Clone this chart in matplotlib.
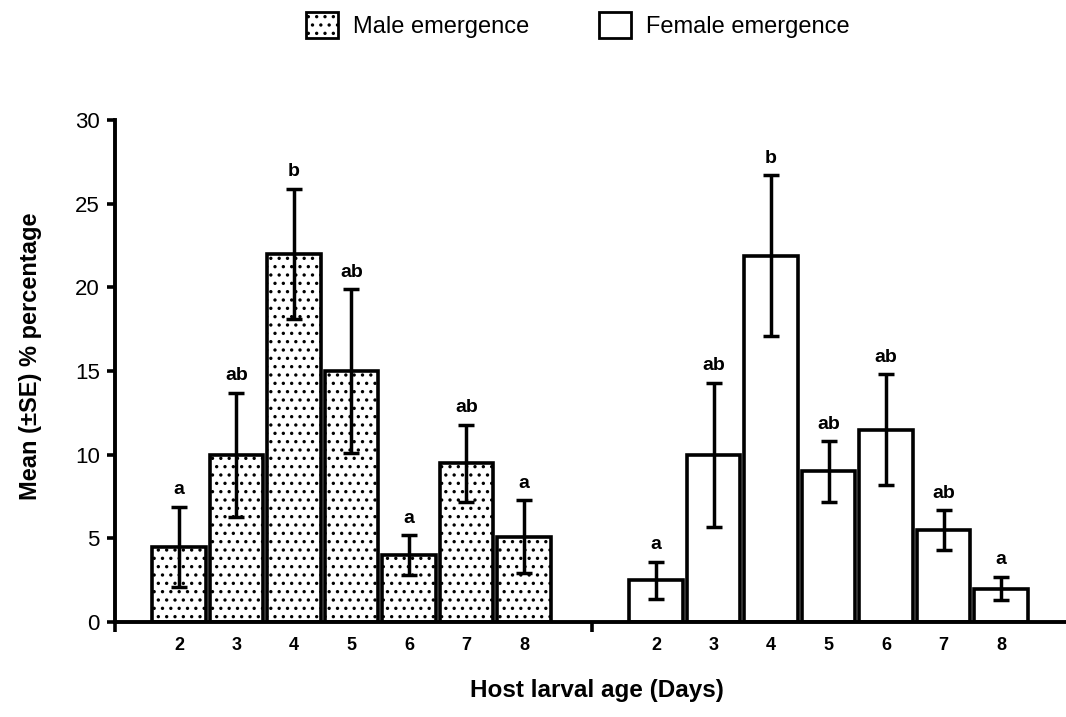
import matplotlib
matplotlib.use("Agg")
import matplotlib.pyplot as plt
import numpy as np
from matplotlib.patches import Patch

plt.rcParams['font.family'] = ['Liberation Sans', 'DejaVu Sans']
plt.rcParams['hatch.color'] = 'black'
plt.rcParams['hatch.linewidth'] = 1.2

ages = ['2', '3', '4', '5', '6', '7', '8']
male_mean = [4.5, 10.0, 22.0, 15.0, 4.0, 9.5, 5.1]
male_se = [2.4, 3.7, 3.9, 4.9, 1.2, 2.3, 2.2]
male_letters = ['a', 'ab', 'b', 'ab', 'a', 'ab', 'a']
female_mean = [2.5, 10.0, 21.9, 9.0, 11.5, 5.5, 2.0]
female_se = [1.1, 4.3, 4.8, 1.8, 3.3, 1.2, 0.7]
female_letters = ['a', 'ab', 'b', 'ab', 'ab', 'ab', 'a']

fig = plt.figure(figsize=(10.66, 7.17), dpi=100)
ax = fig.add_axes([0.108, 0.1325, 0.892, 0.7001])

male_x = np.arange(len(ages), dtype=float)
female_x = male_x + 8.3
width = 0.93

ax.bar(male_x, male_mean, width=width, color='white', edgecolor='black',
       linewidth=2.6, hatch='..', zorder=2)
ax.bar(female_x, female_mean, width=width, color='white', edgecolor='black',
       linewidth=2.6, zorder=2)
ax.errorbar(male_x, male_mean, yerr=male_se, fmt='none', ecolor='black',
            elinewidth=2.5, capsize=6, capthick=2.5, zorder=3)
ax.errorbar(female_x, female_mean, yerr=female_se, fmt='none', ecolor='black',
            elinewidth=2.5, capsize=6, capthick=2.5, zorder=3)

for xs, ms, ss, ls in [(male_x, male_mean, male_se, male_letters),
                       (female_x, female_mean, female_se, female_letters)]:
    for x, m, s, l in zip(xs, ms, ss, ls):
        ax.annotate(l, (x, m + s), xytext=(0, 6), textcoords='offset points',
                    ha='center', va='bottom', fontsize=14, fontweight='bold')

ax.set_xlim(-1.11, 15.43)
ax.set_ylim(0, 30)
ax.set_yticks([0, 5, 10, 15, 20, 25, 30])
ax.tick_params(axis='y', labelsize=16, direction='out', length=6, width=2.6, pad=5)
ax.set_xticks(np.concatenate([male_x, female_x]))
ax.set_xticklabels(ages + ages, fontsize=13, fontweight='bold')
ax.tick_params(axis='x', length=0, pad=11)
ax.set_xticks([-1.11, 7.18], minor=True)
ax.tick_params(axis='x', which='minor', direction='out', length=7, width=2.6)

for sp in ['top', 'right']:
    ax.spines[sp].set_visible(False)
for sp in ['left', 'bottom']:
    ax.spines[sp].set_linewidth(2.8)

ax.set_ylabel('Mean (±SE) % percentage', fontsize=17, fontweight='bold')
ax.yaxis.set_label_coords(-0.077, 0.53)
ax.set_xlabel('Host larval age (Days)', fontsize=17.5, fontweight='bold')
ax.xaxis.set_label_coords(0.507, -0.113)

handles = [Patch(facecolor='white', edgecolor='black', hatch='..', linewidth=2.0),
           Patch(facecolor='white', edgecolor='black', linewidth=2.0)]
fig.legend(handles, ['Male emergence', 'Female emergence'], loc='center',
           bbox_to_anchor=(0.542, 0.965), ncol=2, frameon=False, fontsize=17,
           handlelength=1.36, handleheight=1.27, columnspacing=2.95, handletextpad=0.62)

fig.savefig('out.png', dpi=100)
